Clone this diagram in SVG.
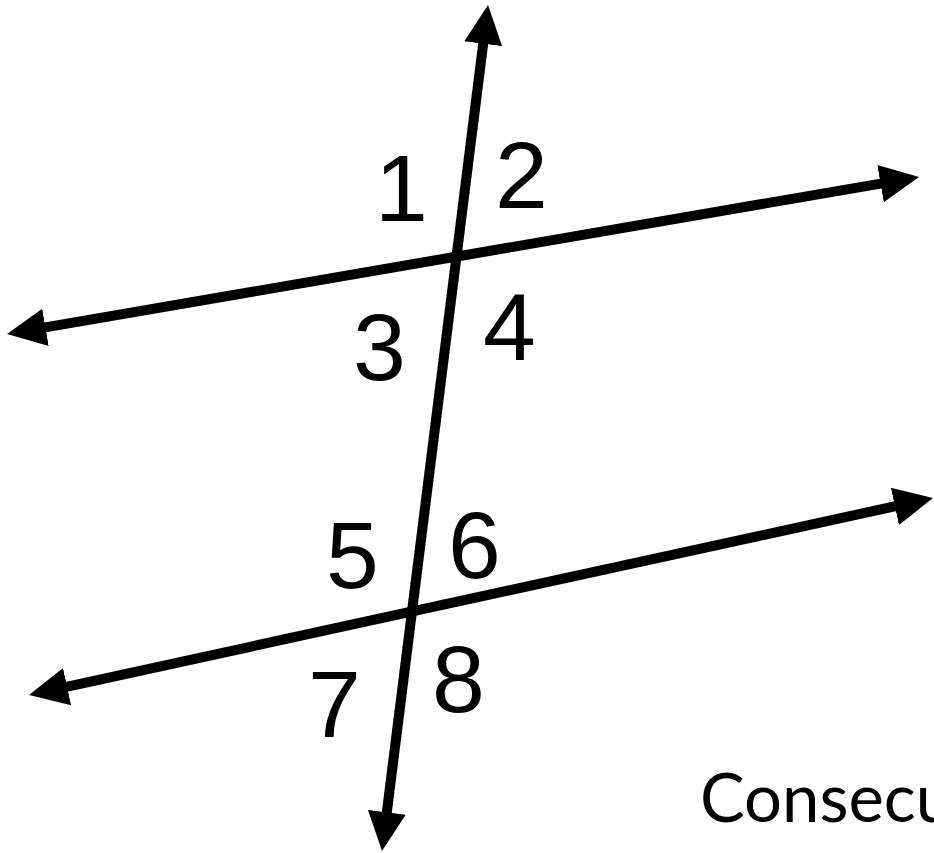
<svg xmlns="http://www.w3.org/2000/svg" width="934" height="853" viewBox="0 0 934 853">
  <style>
    .ln { stroke: #000; stroke-width: 10; fill: none; stroke-linecap: butt; }
    .num { font-family: "Liberation Sans", Arial, sans-serif; font-size: 95px; fill: #000; }
    .cap { font-family: Lato, "Open Sans", sans-serif; font-size: 67px; fill: #000; }
  </style>
  <defs>
    <marker id="arr" markerUnits="userSpaceOnUse" viewBox="0 -22 46 44" markerWidth="46" markerHeight="44" refX="9" refY="0" orient="auto">
      <path d="M0,-19 L39,0 L0,19 z" fill="#000"/>
    </marker>
    <marker id="arrs" markerUnits="userSpaceOnUse" viewBox="0 -22 46 44" markerWidth="46" markerHeight="44" refX="9" refY="0" orient="auto-start-reverse">
      <path d="M0,-19 L39,0 L0,19 z" fill="#000"/>
    </marker>
  </defs>
  <rect width="934" height="853" fill="#fff"/>
  <g id="connectors">
    <line id="transversal" class="ln" x1="385.7" y1="821.2" x2="484.3" y2="34.8" marker-start="url(#arrs)" marker-end="url(#arr)"/>
    <line id="line-upper" class="ln" x1="36.6" y1="328.9" x2="889.4" y2="182.1" marker-start="url(#arrs)" marker-end="url(#arr)"/>
    <line id="line-lower" class="ln" x1="58.3" y1="688.6" x2="903.7" y2="504.4" marker-start="url(#arrs)" marker-end="url(#arr)"/>
  </g>
  <g id="labels">
    <text class="num" x="375" y="221">1</text>
    <text class="num" x="495" y="208">2</text>
    <text class="num" x="353" y="380">3</text>
    <text class="num" x="483" y="360">4</text>
    <text class="num" x="326" y="588">5</text>
    <text class="num" x="448" y="578">6</text>
    <text class="num" x="308" y="737">7</text>
    <text class="num" x="432" y="712">8</text>
  </g>
  <text id="caption" class="cap" x="700" y="822">Consecu</text>
</svg>
